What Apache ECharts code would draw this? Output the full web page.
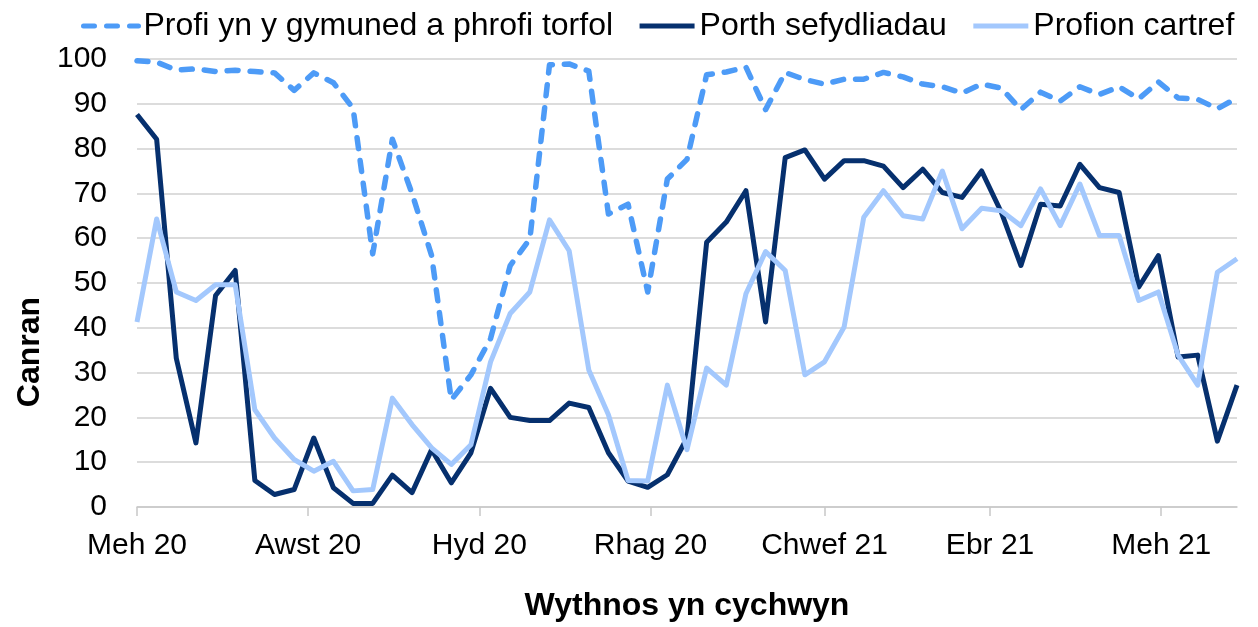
<!DOCTYPE html>
<html>
<head>
<meta charset="utf-8">
<script src="https://cdn.jsdelivr.net/npm/echarts@6/dist/echarts.min.js"></script>
<style>
html,body{margin:0;padding:0;background:#fff;}
#chart{width:1258px;height:627px;}
</style>
</head>
<body>
<div id="chart"></div>
<script>
// Week starting dates
const weeks = [
 '2020-06-01','2020-06-08','2020-06-15','2020-06-22','2020-06-29','2020-07-06','2020-07-13','2020-07-20','2020-07-27',
 '2020-08-03','2020-08-10','2020-08-17','2020-08-24','2020-08-31','2020-09-07','2020-09-14','2020-09-21','2020-09-28',
 '2020-10-05','2020-10-12','2020-10-19','2020-10-26','2020-11-02','2020-11-09','2020-11-16','2020-11-23','2020-11-30',
 '2020-12-07','2020-12-14','2020-12-21','2020-12-28','2021-01-04','2021-01-11','2021-01-18','2021-01-25','2021-02-01',
 '2021-02-08','2021-02-15','2021-02-22','2021-03-01','2021-03-08','2021-03-15','2021-03-22','2021-03-29','2021-04-05',
 '2021-04-12','2021-04-19','2021-04-26','2021-05-03','2021-05-10','2021-05-17','2021-05-24','2021-05-31','2021-06-07',
 '2021-06-14','2021-06-21','2021-06-28'
];
// Series values (%)
const community = [
 99.6,99.3,97.5,97.8,97.2,97.5,97.2,96.9,93.0,96.9,94.7,89.0,56.5,82.1,70.0,56.1,23.9,29.5,37.6,
 53.9,59.8,98.7,98.9,97.3,65.4,67.6,48.0,73.2,77.6,96.5,97.1,98.2,88.7,97.0,95.4,94.4,95.5,95.5,
 97.0,96.0,94.4,93.8,92.4,94.4,93.5,88.7,92.6,90.6,93.8,92.1,93.8,91.1,94.9,91.3,91.0,88.9,91.3
];
const institutions = [
 87.6,82.1,33.2,14.3,47.2,52.8,5.9,2.8,3.9,15.4,4.3,0.8,0.8,7.1,3.2,12.8,5.4,12.1,26.5,
 20.0,19.3,19.3,23.2,22.2,12.1,5.8,4.4,7.2,15.4,59.1,63.6,70.6,41.3,78.0,79.7,73.2,77.3,77.3,
 76.1,71.3,75.4,70.2,69.1,75.0,65.8,53.9,67.6,67.2,76.5,71.3,70.2,49.1,56.1,33.5,33.9,14.7,27.2
];
const homeTests = [
 41.3,64.3,48.0,46.1,49.6,49.6,21.7,15.4,10.6,8.0,10.2,3.6,3.9,24.3,18.4,13.2,9.5,13.9,32.4,
 43.2,48.0,64.1,57.2,30.6,20.6,5.9,5.8,27.2,12.8,31.0,27.2,47.6,57.0,52.8,29.5,32.4,40.2,64.7,
 70.6,65.0,64.3,75.0,62.1,66.7,66.1,62.8,71.0,62.8,72.1,60.6,60.6,46.1,48.0,33.9,27.2,52.4,55.4
];
const seriesNames = ['Profi yn y gymuned a phrofi torfol','Porth sefydliadau','Profion cartref'];
const xTickDates = ['2020-06-01','2020-08-01','2020-10-01','2020-12-01','2021-02-01','2021-04-01','2021-06-01'];
const monthNames = ['Ion','Chwef','Maw','Ebr','Mai','Meh','Gorff','Awst','Medi','Hyd','Tach','Rhag'];
const xTitle = 'Wythnos yn cychwyn';
const yTitle = 'Canran';

const FONT = 'Liberation Sans, Arial, sans-serif';
const DAY = 86400000;
const utc = s => { const p = s.split('-').map(Number); return Date.UTC(p[0], p[1] - 1, p[2]); };
const origin = utc(weeks[0]);
const dayOf = s => Math.round((utc(s) - origin) / DAY);
const pair = arr => weeks.map((d, i) => [dayOf(d), arr[i]]);
const tickDays = xTickDates.map(dayOf);

const chart = echarts.init(document.getElementById('chart'), null, {renderer: 'canvas'});
chart.setOption({
  animation: false,
  backgroundColor: '#ffffff',
  grid: {left: 137, right: 21, top: 59, bottom: 118, containLabel: false},
  legend: {
    left: 76, top: 5,
    itemWidth: 55, itemHeight: 14, itemGap: 24,
    itemStyle: {opacity: 0},
    lineStyle: {width: 5},
    textStyle: {fontFamily: FONT, fontSize: 32, color: '#000'},
    data: seriesNames
  },
  xAxis: {
    type: 'value',
    min: 0, max: dayOf(weeks[weeks.length - 1]),
    name: xTitle, nameLocation: 'middle', nameGap: 83,
    nameTextStyle: {fontFamily: FONT, fontSize: 32, fontWeight: 'bold', color: '#000'},
    axisLine: {show: true, onZero: false, lineStyle: {color: '#c8c8c8', width: 1.5}},
    axisTick: {show: true, length: 9, customValues: tickDays, lineStyle: {color: '#c8c8c8', width: 1.5}},
    splitLine: {show: false},
    axisLabel: {
      customValues: tickDays,
      margin: 24, showMinLabel: true, showMaxLabel: true,
      fontFamily: FONT, fontSize: 30, color: '#000',
      formatter: function (v) {
        const d = new Date(origin + v * DAY);
        return monthNames[d.getUTCMonth()] + ' ' + String(d.getUTCFullYear()).slice(2);
      }
    }
  },
  yAxis: {
    type: 'value', min: 0, max: 100, interval: 10,
    axisLine: {show: false}, axisTick: {show: false},
    splitLine: {lineStyle: {color: '#d0d0d0', width: 1.5}},
    axisLabel: {margin: 30, fontFamily: FONT, fontSize: 30, color: '#000'}
  },
  graphic: [{
    type: 'text', x: 30, y: 352, rotation: Math.PI / 2,
    style: {text: yTitle, fontFamily: FONT, fontSize: 32, fontWeight: 'bold', fill: '#000', align: 'center', verticalAlign: 'middle'}
  }],
  series: [
    {name: seriesNames[0], type: 'line', data: pair(community), showSymbol: false, symbol: 'none',
     lineStyle: {color: '#4d9bf7', width: 5.5, type: [11, 12], cap: 'round', join: 'round'}, itemStyle: {color: '#4d9bf7'}},
    {name: seriesNames[1], type: 'line', data: pair(institutions), showSymbol: false, symbol: 'none',
     lineStyle: {color: '#06306e', width: 5, join: 'round'}, itemStyle: {color: '#06306e'}},
    {name: seriesNames[2], type: 'line', data: pair(homeTests), showSymbol: false, symbol: 'none',
     lineStyle: {color: '#a3c8fd', width: 5, join: 'round'}, itemStyle: {color: '#a3c8fd'}}
  ]
});
</script>
</body>
</html>
